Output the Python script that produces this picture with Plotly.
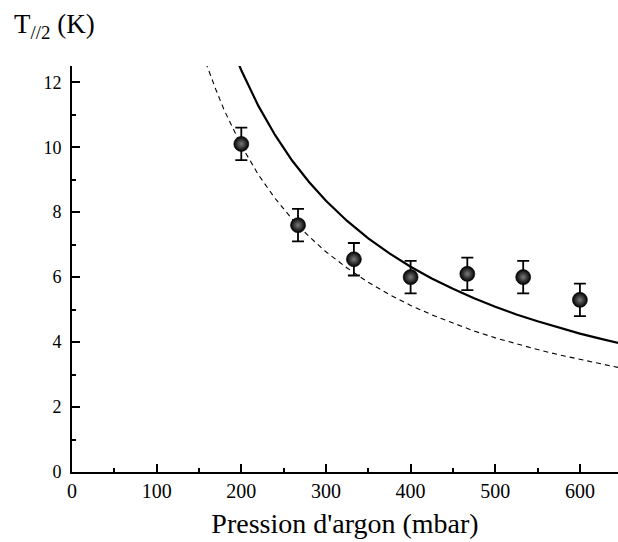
import plotly.graph_objects as go

# Measured points
pressure = [200, 267, 333, 400, 467, 533, 600]
temperature = [10.1, 7.6, 6.55, 6.0, 6.1, 6.0, 5.3]
temp_err = [0.5, 0.5, 0.5, 0.5, 0.5, 0.5, 0.5]

# Solid curve
solid_x = [195, 200, 220, 240, 260, 280, 300, 325, 350, 375, 400, 425, 450,
           475, 500, 525, 550, 575, 600, 625, 645, 650]
solid_y = [12.68, 12.37, 11.28, 10.37, 9.59, 8.93, 8.35, 7.73, 7.19, 6.73, 6.32,
           5.96, 5.64, 5.35, 5.09, 4.85, 4.64, 4.44, 4.26, 4.10, 3.97, 3.94]

# Dashed curve
dashed_x = [155, 160, 170, 180, 200, 220, 240, 260, 280, 300, 325, 350, 375,
            400, 425, 450, 475, 500, 525, 550, 575, 600, 625, 645, 650]
dashed_y = [12.87, 12.47, 11.77, 11.13, 10.05, 9.16, 8.42, 7.79, 7.25, 6.78, 6.28,
            5.84, 5.46, 5.13, 4.84, 4.58, 4.34, 4.13, 3.94, 3.77, 3.61, 3.46, 3.33, 3.22, 3.20]

x_ticks = [0, 100, 200, 300, 400, 500, 600]
y_ticks = [0, 2, 4, 6, 8, 10, 12]

FONT = "Liberation Serif, Times New Roman, serif"

fig = go.Figure()
fig.add_trace(go.Scatter(x=dashed_x, y=dashed_y, mode="lines",
                         line=dict(color="black", width=1.1, dash="5px,4px"),
                         showlegend=False, hoverinfo="skip"))
fig.add_trace(go.Scatter(x=solid_x, y=solid_y, mode="lines",
                         line=dict(color="black", width=2.2),
                         showlegend=False, hoverinfo="skip"))
fig.add_trace(go.Scatter(
    x=pressure, y=temperature, mode="markers",
    error_y=dict(type="data", array=temp_err, color="black", thickness=1.8, width=6),
    marker=dict(size=15, color="black",
                gradient=dict(type="radial", color="#7a7a7a"),
                line=dict(color="black", width=0.6)),
    showlegend=False))

axis_common = dict(
    showgrid=False, zeroline=False, showline=True, linecolor="black", linewidth=2,
    ticks="inside", ticklen=8, tickwidth=1.5, tickcolor="black",
    mirror=False, automargin=False,
)

fig.update_xaxes(range=[0, 645], tickvals=x_ticks,
                 tickfont=dict(family=FONT, size=20, color="black"),
                 minor=dict(ticks="inside", ticklen=4, dtick=50, tick0=0, tickcolor="black", tickwidth=1.5),
                 title=dict(text="Pression d'argon (mbar)", font=dict(family=FONT, size=28, color="black"),
                            standoff=12),
                 **axis_common)
fig.update_yaxes(range=[0, 12.5], tickvals=y_ticks,
                 tickfont=dict(family=FONT, size=18, color="black"),
                 minor=dict(ticks="inside", ticklen=4, dtick=1, tick0=0, tickcolor="black", tickwidth=1.5),
                 ticklabelstandoff=5,
                 **axis_common)

fig.add_annotation(xref="paper", yref="paper", x=-0.11, y=1.0, yshift=40,
                   xanchor="left", yanchor="middle", showarrow=False,
                   text="T<sub>//2</sub> (K)",
                   font=dict(family=FONT, size=27, color="black"))

fig.update_layout(width=618, height=542,
                  font=dict(family=FONT, color="black"),
                  margin=dict(l=72, r=0, t=66, b=70, autoexpand=False),
                  plot_bgcolor="white", paper_bgcolor="white")

fig.write_html("out.html", config={"displayModeBar": False},
               post_script="document.body.style.margin='0';")
